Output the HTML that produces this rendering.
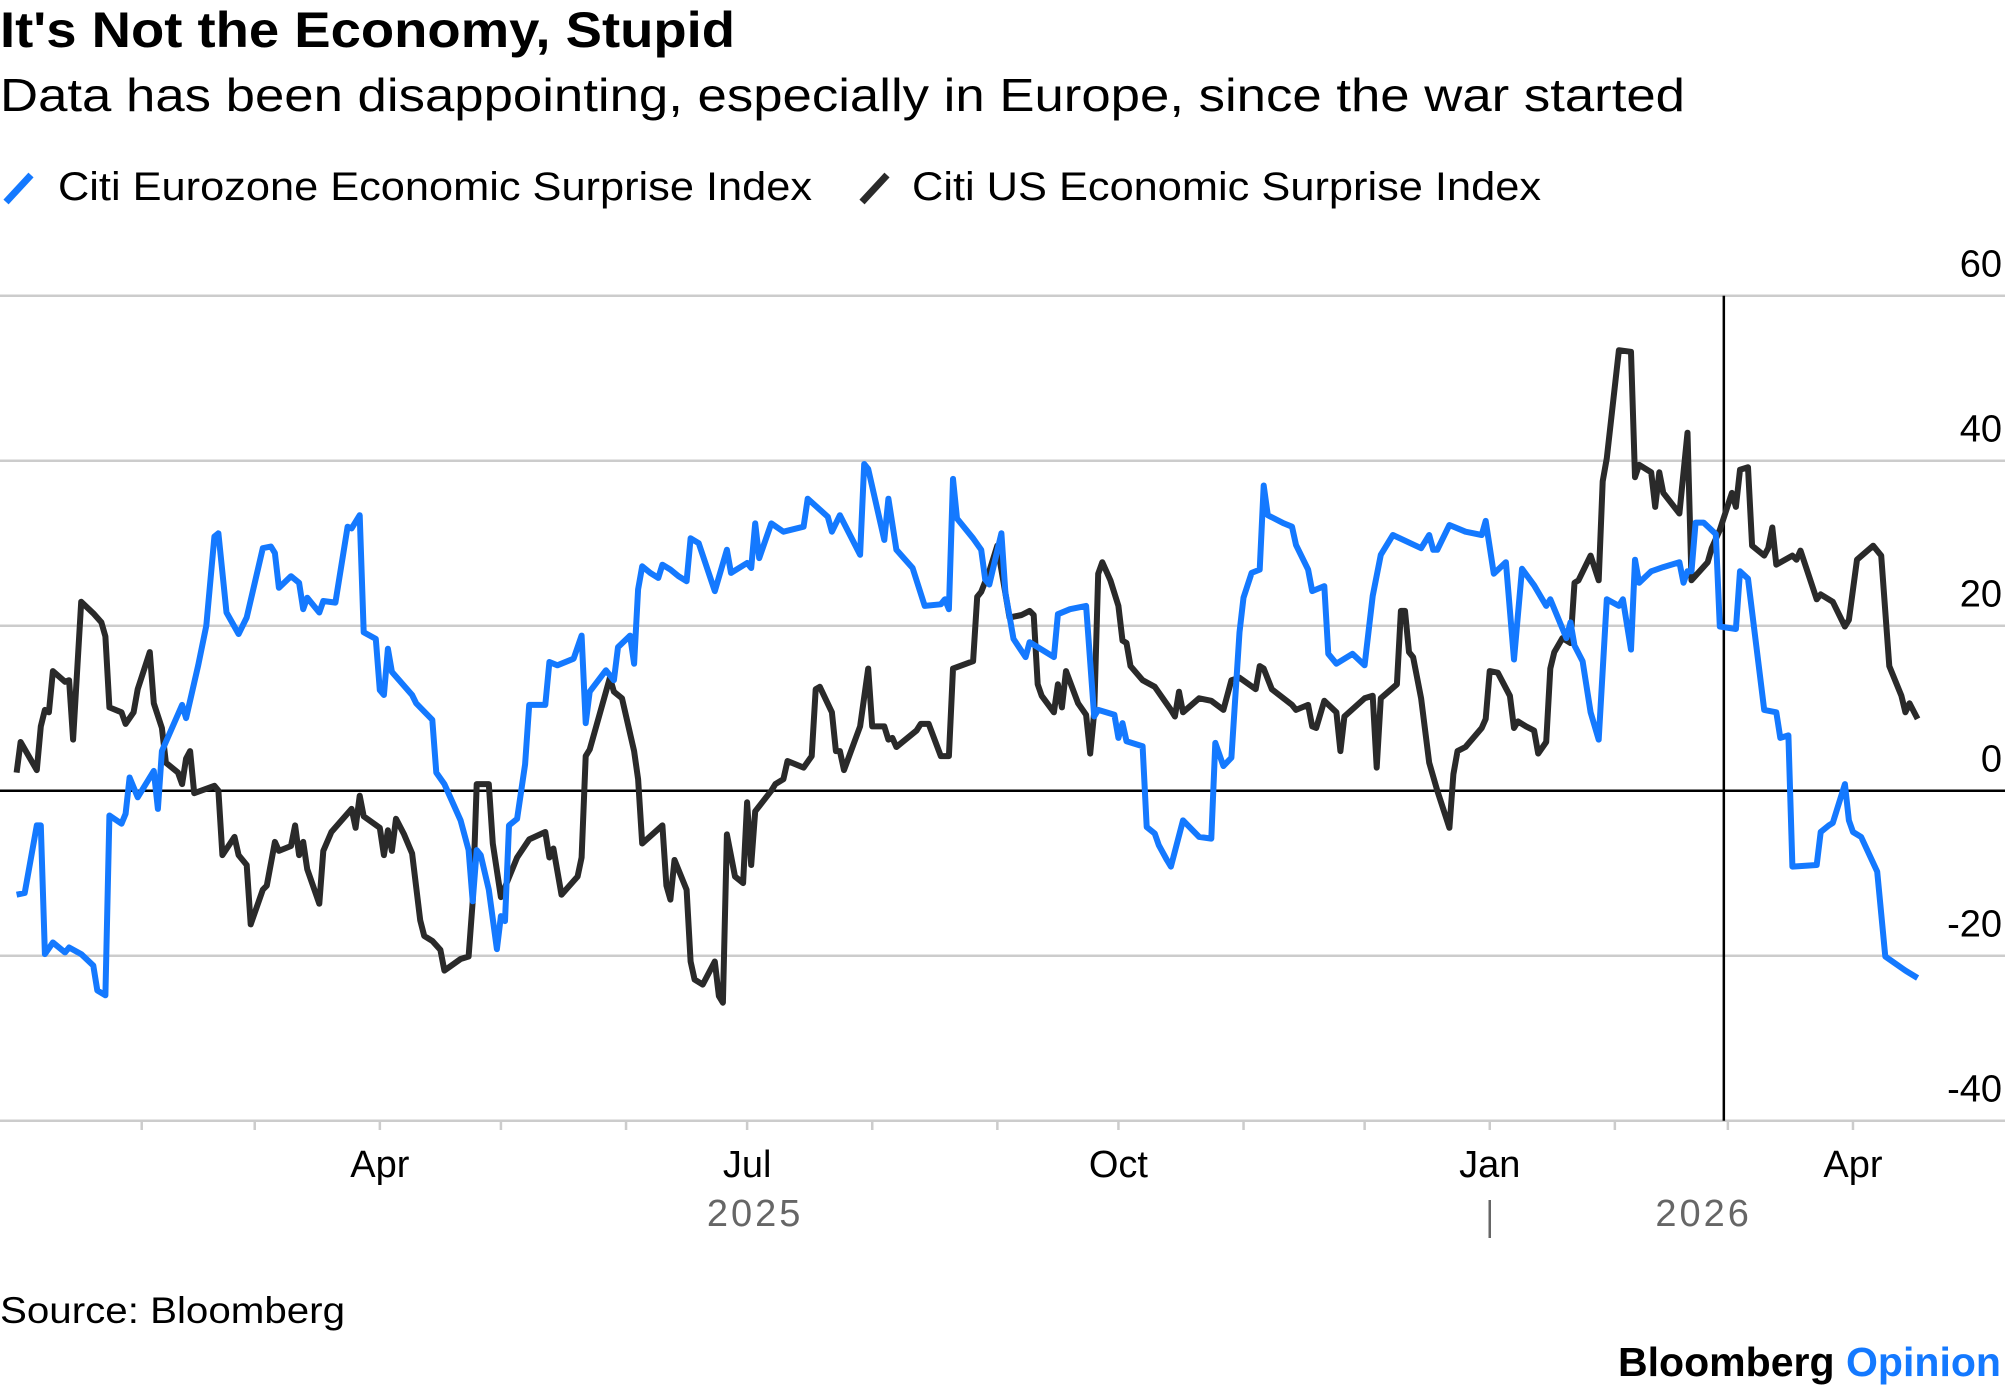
<!DOCTYPE html>
<html>
<head>
<meta charset="utf-8">
<style>
  html,body{margin:0;padding:0;background:#fff;}
  body{width:2005px;height:1392px;overflow:hidden;font-family:"Liberation Sans",sans-serif;}
  svg text{font-family:"Liberation Sans",sans-serif;}
</style>
</head>
<body>
<svg id="chart" width="2005" height="1392" viewBox="0 0 2005 1392" xmlns="http://www.w3.org/2000/svg">
  <text x="0" y="47" font-size="50" font-weight="bold" fill="#000" textLength="735" lengthAdjust="spacingAndGlyphs">It's Not the Economy, Stupid</text>
  <text x="0" y="111" font-size="46" fill="#000" textLength="1685" lengthAdjust="spacingAndGlyphs">Data has been disappointing, especially in Europe, since the war started</text>
  <g>
    <g>
      <line x1="6" y1="202" x2="31" y2="175" stroke="#1479ff" stroke-width="7"/>
      <text x="58" y="200" font-size="40" fill="#000" textLength="754" lengthAdjust="spacingAndGlyphs">Citi Eurozone Economic Surprise Index</text>
    </g>
    <g>
      <line x1="862" y1="202" x2="887" y2="175" stroke="#2a2a2a" stroke-width="7"/>
      <text x="912" y="200" font-size="40" fill="#000" textLength="629" lengthAdjust="spacingAndGlyphs">Citi US Economic Surprise Index</text>
    </g>
  </g>
  <g id="grid"></g>
  <g id="xaxis"></g>
  <g id="series"></g>
  <text x="0" y="1323" font-size="37" fill="#000" textLength="345" lengthAdjust="spacingAndGlyphs">Source: Bloomberg</text>
  <text x="1618" y="1376" font-size="41" font-weight="bold" fill="#000" textLength="383" lengthAdjust="spacingAndGlyphs">Bloomberg <tspan fill="#1479ff">Opinion</tspan></text>
</svg>
<script>
// days since 2025-01-01
const euDays = [0,2,5,6,7,9,12,13,16,19,20,22,23,26,27,28,30,34,35,36,41,42,45,47,49,50,52,55,57,61,63,64,65,68,70,71,72,75,76,79,82,83,85,86,89,90,91,92,93,98,99,103,104,106,110,112,113,114,115,117,119,120,121,122,124,126,127,131,132,134,138,140,141,142,146,148,149,152,153,154,155,157,159,160,162,164,166,167,169,173,176,177,181,182,183,184,187,190,195,196,201,202,204,209,210,211,215,216,218,222,225,229,230,231,232,233,237,239,240,241,244,245,247,250,251,257,258,261,265,267,268,272,273,274,275,279,280,282,283,285,286,289,293,296,297,299,301,303,304,306,308,309,310,314,316,317,320,321,324,325,327,331,334,336,338,341,348,350,351,352,355,359,363,364,366,369,371,373,376,379,380,384,385,386,388,390,392,394,397,398,400,401,402,405,408,412,413,414,415,416,418,421,422,426,427,429,433,436,437,439,440,446,447,449,450,453,454,455,457,461,463,468,471];
const euValues = [-12.6,-12.4,-4.2,-4.2,-19.8,-18.4,-19.6,-19,-19.8,-21.2,-24.2,-24.8,-3,-4,-2.8,1.6,-0.8,2.4,-2.2,4.8,10.4,8.8,15.2,20,30.8,31.2,21.6,19,21,29.4,29.6,28.8,24.6,26,25.2,22,23.4,21.6,23,22.8,32,31.8,33.4,19.2,18.4,12.2,11.6,17.2,14.4,11.6,10.6,8.6,2.2,0.8,-3.6,-7.2,-13.4,-7.2,-7.8,-12,-19.2,-15.2,-15.8,-4.2,-3.4,3.2,10.4,10.4,15.6,15.2,16,18.8,8.2,12,14.6,13.4,17.4,18.8,15.4,24.4,27.2,26.4,25.8,27.4,26.8,26,25.4,30.6,30,24.2,29.2,26.4,27.6,27,32.4,28.2,32.4,31.4,32,35.4,33.2,31.4,33.4,28.6,39.6,39,30.4,35.4,29.2,27,22.4,22.6,23.2,22,37.8,33,30.6,29.2,25.6,25,31.2,24,18.4,16.2,18,16.2,21.4,22,22.4,9,9.8,9.2,6.4,8.2,6,5.4,-4.4,-5.2,-6.6,-8.4,-9.2,-3.6,-5.6,-5.8,5.8,3,4,19.2,23.4,26.4,26.8,37,33.4,32.4,32,29.8,26.8,24.2,24.8,16.6,15.4,16.6,15.2,23.6,28.6,31,29.4,31,29.2,29.2,32.2,31.4,31,32.7,26.3,27.7,15.9,26.9,24.9,22.4,23.2,18.5,20.4,17.6,15.7,9.5,6.2,23.2,22.4,23.2,17.1,28,25.2,26.6,27.1,27.7,25.2,26.6,26.6,32.5,32.5,31.1,19.9,19.6,26.6,25.7,9.8,9.5,6.4,6.7,-9.2,-9,-5,-4.2,-3.9,0.8,-3.6,-5,-5.6,-9.8,-20.1,-21.8,-22.7];
const usDays = [0,1,5,6,7,8,9,12,13,14,16,19,21,22,23,26,27,29,30,33,34,36,37,40,41,42,43,44,49,50,51,54,55,57,58,61,62,64,65,68,69,70,71,72,75,76,78,83,84,85,86,90,91,92,93,94,96,98,100,101,103,105,106,110,112,113,114,117,118,120,124,127,131,132,133,135,139,140,141,142,147,148,150,153,154,155,160,161,162,163,166,167,168,170,173,174,175,176,178,180,181,182,183,187,188,190,191,195,197,198,199,202,203,204,205,209,211,212,215,216,217,218,223,224,226,229,231,232,237,238,239,241,243,246,249,251,252,253,254,257,258,259,260,263,265,266,267,268,269,271,273,274,275,276,279,282,286,287,288,289,293,296,299,301,303,307,308,309,311,316,317,320,321,322,324,327,328,329,334,336,337,338,342,343,344,345,346,348,350,352,355,356,357,359,363,364,365,367,370,371,372,374,376,377,379,380,381,383,385,386,387,390,392,393,394,397,400,401,402,405,406,407,408,412,414,415,419,420,422,425,426,427,429,430,433,434,435,436,440,441,442,446,447,450,453,454,456,460,462,464,467,468,469,471];
const usValues = [2.2,5.9,2.5,7.8,9.8,9.5,14.5,13.2,13.4,6.2,22.9,21.5,20.4,18.7,10.1,9.5,8.1,9.5,12.3,16.8,10.6,7.6,3.4,2.2,0.8,3.9,4.8,-0.3,0.6,0,-7.8,-5.6,-7.8,-9,-16.2,-12,-11.5,-6.2,-7.3,-6.7,-4.2,-7.8,-6.2,-9.5,-13.7,-7.3,-5,-2.2,-4.5,-0.6,-3.1,-4.5,-7.8,-4.8,-7.3,-3.4,-5.3,-7.6,-15.7,-17.6,-18.2,-19.3,-21.8,-20.4,-20.1,-13.4,0.8,0.8,-6.4,-12.9,-8.1,-5.9,-5,-8.1,-7,-12.6,-10.4,-8.1,4.2,5,13.7,12,11.2,4.8,1.4,-6.4,-4.2,-11.5,-13.2,-8.4,-12,-20.7,-22.9,-23.5,-20.7,-24.9,-25.7,-5.3,-10.4,-11.2,-1.4,-9,-2.5,0,0.8,1.4,3.6,2.8,4.2,12.3,12.6,9.5,4.8,4.8,2.5,7.8,14.8,7.8,7.8,6.2,6.4,5.3,7.3,8.1,8.1,4.2,4.2,14.8,15.7,23.5,24.1,26.6,29.7,21,21.3,21.8,21.3,12.9,11.5,9.5,12.9,10.1,14.5,10.6,9.2,4.5,9.5,26.3,27.7,25.5,22.4,18.2,17.9,15.1,13.4,12.6,9.8,9,12,9.5,11.2,10.9,9.8,13.4,13.7,12.3,15.1,14.8,12.3,10.4,9.8,10.4,7.8,7.6,10.9,9.5,4.8,9,11.2,11.5,2.8,11.2,12.9,21.8,21.8,16.8,16.2,11.2,3.4,0,-4.5,2,4.8,5.3,7.6,8.7,14.5,14.3,11.5,7.6,8.4,7.8,7.3,4.5,5.9,14.8,16.8,18.5,17.9,25.2,25.5,28.5,25.5,37.5,40.3,53.4,53.2,38,39.5,38.6,34.4,38.6,36.1,33.6,43.4,25.5,27.7,29.4,31.6,36.1,34.4,38.9,39.2,29.7,28.5,29.4,31.9,27.4,28.5,28,29.1,23.2,23.8,22.9,19.9,20.7,28,29.7,28.5,15.1,11.5,9.5,10.6,8.7];
const yTicks = [60,40,20,0,-20,-40];
const yTickLabels = ["60","40","20","0","-20","-40"];
const monthTickDays = [31,59,90,120,151,181,212,243,273,304,334,365,396,424,455];
const monthLabelDays = [90,181,273,365,455];
const monthLabels = ["Apr","Jul","Oct","Jan","Apr"];
const yearLabels = ["2025","2026"];
const yearLabelDays = [183,418];
const warStartDay = 423;

const NS = "http://www.w3.org/2000/svg";
const xS = d => 16.6 + d * 4.036;
const yS = v => 790.7 - v * 8.25;
function mk(tag, attrs, parent){
  const e = document.createElementNS(NS, tag);
  for (const k in attrs) e.setAttribute(k, attrs[k]);
  parent.appendChild(e);
  return e;
}
const grid = document.getElementById('grid');
yTicks.forEach((t, i) => {
  const y = yS(t);
  const isZero = t === 0;
  const ln = mk('line', {x1:0, x2:2005, y1:y, y2:y, stroke: isZero ? '#000' : '#cccccc', 'stroke-width': 2.5}, grid);
  
  
  const tx = mk('text', {x:2002, y:y - 19, 'font-size':38, 'text-anchor':'end', fill:'#000'}, grid);
  tx.textContent = yTickLabels[i];
  
  
});
const xa = document.getElementById('xaxis');
monthTickDays.forEach(d => {
  const tk = mk('line', {x1:xS(d), x2:xS(d), y1:1120, y2:1130, stroke:'#cccccc', 'stroke-width':2.5}, xa);
  
  
});
monthLabelDays.forEach((d, i) => {
  const tx = mk('text', {x:xS(d), y:1177, 'font-size':38, 'text-anchor':'middle', fill:'#000'}, xa);
  tx.textContent = monthLabels[i];
  
  
});
yearLabelDays.forEach((d, i) => {
  const tx = mk('text', {x:xS(d), y:1226, 'font-size':38, 'text-anchor':'middle', fill:'#666', 'letter-spacing':'3'}, xa);
  tx.textContent = yearLabels[i];
  
  
});
const sep = mk('line', {x1:xS(365), x2:xS(365), y1:1200, y2:1238, stroke:'#666', 'stroke-width':2.5}, xa);



const ser = document.getElementById('series');
const vline = mk('line', {x1:xS(warStartDay), x2:xS(warStartDay), y1:yS(60), y2:yS(-40), stroke:'#000', 'stroke-width':2.5}, ser);



function pathOf(days, vals){
  return days.map((d, i) => (i ? 'L' : 'M') + xS(d).toFixed(1) + ' ' + yS(vals[i]).toFixed(1)).join(' ');
}
const us = mk('path', {d:pathOf(usDays, usValues), fill:'none', stroke:'#2a2a2a', 'stroke-width':6, 'stroke-linejoin':'round'}, ser);


const eu = mk('path', {d:pathOf(euDays, euValues), fill:'none', stroke:'#1479ff', 'stroke-width':6, 'stroke-linejoin':'round'}, ser);


</script>
</body>
</html>
